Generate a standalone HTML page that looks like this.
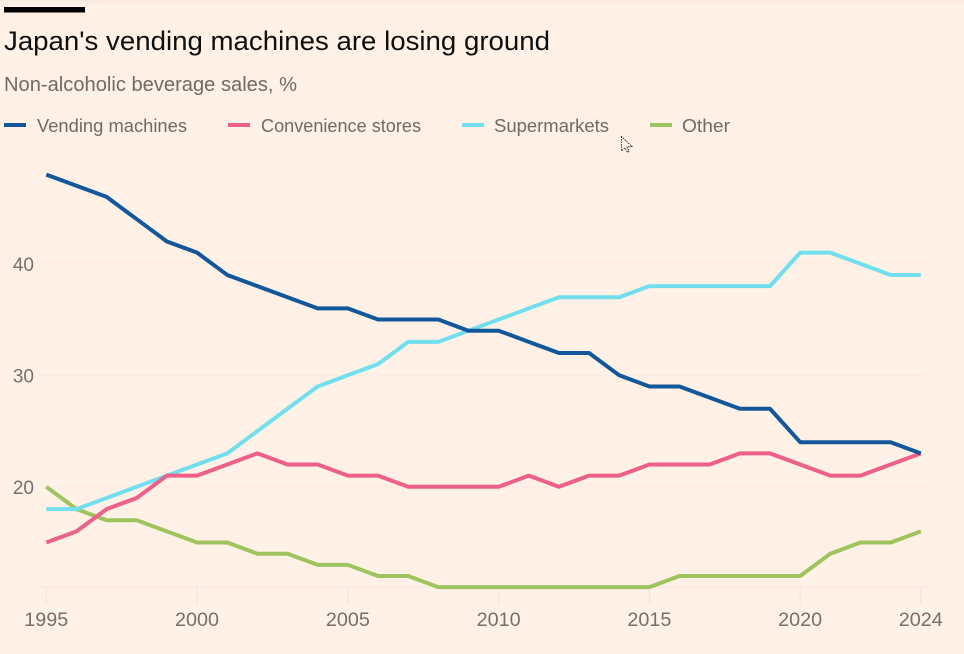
<!DOCTYPE html>
<html lang="en">
<head>
<meta charset="utf-8">
<title>Japan's vending machines are losing ground</title>
<style>
html,body{margin:0;padding:0;background:#fff1e5;}
body{width:964px;height:654px;overflow:hidden;font-family:"Liberation Sans",sans-serif;}
svg{display:block;}
text{font-family:"Liberation Sans",sans-serif;}
</style>
</head>
<body>
<svg id="chart" width="964" height="654" viewBox="0 0 964 654">
  <defs>
    <linearGradient id="top-shade" x1="0" y1="0" x2="0" y2="1">
      <stop offset="0" stop-color="#f6e9de"/>
      <stop offset="1" stop-color="#fff1e5"/>
    </linearGradient>
  </defs>
  <rect width="964" height="654" fill="#fff1e5"/>
  <rect width="964" height="5" fill="url(#top-shade)"/>
  <rect x="4" y="7" width="81" height="5.5" fill="#000"/>
  <text x="4" y="50" font-size="27" fill="#0f0f0f" textLength="546" lengthAdjust="spacingAndGlyphs">Japan's vending machines are losing ground</text>
  <text x="4" y="91" font-size="20" fill="#706b67" textLength="293" lengthAdjust="spacingAndGlyphs">Non-alcoholic beverage sales, %</text>
  <g id="grid"></g>
  <g id="axes"></g>
  <g id="series"></g>
  <g id="legend"></g>
  <path d="M621.5 136.5 L621.5 151 L625 147.8 L627.5 152.5 L629 151.5 L627 147 L632 146.5 Z" fill="#fff1e5" stroke="#222" stroke-width="0.9" stroke-dasharray="1.5 1"/>
</svg>
<script>
const years = [1995,1996,1997,1998,1999,2000,2001,2002,2003,2004,2005,2006,2007,2008,2009,2010,2011,2012,2013,2014,2015,2016,2017,2018,2019,2020,2021,2022,2023,2024];
const vendingMachines = [48,47,46,44,42,41,39,38,37,36,36,35,35,35,34,34,33,32,32,30,29,29,28,27,27,24,24,24,24,23];
const convenienceStores = [15,16,18,19,21,21,22,23,22,22,21,21,20,20,20,20,21,20,21,21,22,22,22,23,23,22,21,21,22,23];
const supermarkets = [18,18,19,20,21,22,23,25,27,29,30,31,33,33,34,35,36,37,37,37,38,38,38,38,38,41,41,40,39,39];
const other = [20,18,17,17,16,15,15,14,14,13,13,12,12,11,11,11,11,11,11,11,11,12,12,12,12,12,14,15,15,16];
const yTickValues = [20,30,40];
const xTickValues = [1995,2000,2005,2010,2015,2020,2024];
const yBaseline = 11;

const NS = 'http://www.w3.org/2000/svg';
const xScale = function (year) { return 46.3 + (year - 1995) * (920.8 - 46.3) / 29; };
const yScale = function (v) { return 486.8 - (v - 20) * 11.15; };

function make(tag, parent, attrs) {
  const el = document.createElementNS(NS, tag);
  Object.keys(attrs).forEach(function (k) { el.setAttribute(k, attrs[k]); });
  parent.appendChild(el);
  return el;
}

const grid = document.getElementById('grid');
const axes = document.getElementById('axes');
const seriesGroup = document.getElementById('series');
const legend = document.getElementById('legend');

yTickValues.forEach(function (v) {
  const line = make('line', grid, {x1: 40, x2: 927, y1: yScale(v), y2: yScale(v), stroke: '#f9ebdf', 'stroke-width': 1.2});
  
  
  const label = make('text', axes, {x: 34, y: yScale(v) + 7, 'font-size': 19, fill: '#75706c', 'text-anchor': 'end'});
  label.textContent = String(v);
  
  
});

const baseline = make('line', axes, {x1: 40, x2: 927, y1: yScale(yBaseline), y2: yScale(yBaseline), stroke: '#f6e8dc', 'stroke-width': 1.2});



xTickValues.forEach(function (yr) {
  const tick = make('line', axes, {x1: xScale(yr), x2: xScale(yr), y1: yScale(yBaseline), y2: yScale(yBaseline) + 17, stroke: '#f1e3d7', 'stroke-width': 1});
  
  
  const label = make('text', axes, {x: xScale(yr), y: 626, 'font-size': 19, fill: '#75706c', 'text-anchor': 'middle', textLength: 44, lengthAdjust: 'spacingAndGlyphs'});
  label.textContent = String(yr);
  
  
});

function drawSeries(values, color, name) {
  const d = values.map(function (v, i) {
    return (i ? 'L' : 'M') + xScale(years[i]).toFixed(2) + ' ' + yScale(v).toFixed(2);
  }).join(' ');
  const path = make('path', seriesGroup, {d: d, fill: 'none', stroke: color, 'stroke-width': 4, 'stroke-linejoin': 'round'});
  
  
}
drawSeries(other, '#9dc45f', 'line-other');
drawSeries(supermarkets, '#72dfee', 'line-supermarkets');
drawSeries(convenienceStores, '#ec6089', 'line-convenience-stores');
drawSeries(vendingMachines, '#13579b', 'line-vending-machines');

function drawLegend(x, textX, textW, color, labelText, name) {
  const sw = make('rect', legend, {x: x, y: 123, width: 22, height: 4, fill: color});
  
  
  const t = make('text', legend, {x: textX, y: 132, 'font-size': 18, fill: '#706b67', textLength: textW, lengthAdjust: 'spacingAndGlyphs'});
  t.textContent = labelText;
  
  
}
drawLegend(4, 37, 150, '#13579b', 'Vending machines', 'legend-vending-machines');
drawLegend(228, 261, 160, '#ec6089', 'Convenience stores', 'legend-convenience-stores');
drawLegend(462, 494, 115, '#72dfee', 'Supermarkets', 'legend-supermarkets');
drawLegend(650, 682, 48, '#9dc45f', 'Other', 'legend-other');
</script>
</body>
</html>
